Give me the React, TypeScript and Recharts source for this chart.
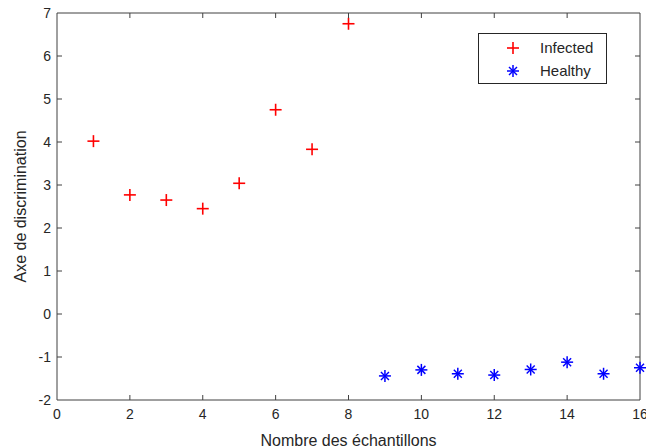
import React from 'react';
import { ScatterChart, Scatter, XAxis, YAxis, ReferenceLine } from 'recharts';

const infectedSamples = [1, 2, 3, 4, 5, 6, 7, 8];
const infectedValues = [4.02, 2.77, 2.65, 2.45, 3.04, 4.75, 3.83, 6.75];
const healthySamples = [9, 10, 11, 12, 13, 14, 15, 16];
const healthyValues = [-1.44, -1.3, -1.39, -1.42, -1.29, -1.12, -1.39, -1.25];
const xTicks = [0, 2, 4, 6, 8, 10, 12, 14, 16];
const yTicks = [-2, -1, 0, 1, 2, 3, 4, 5, 6, 7];

const infectedData = infectedSamples.map((x, i) => ({ x, y: infectedValues[i] }));
const healthyData = healthySamples.map((x, i) => ({ x, y: healthyValues[i] }));

const FONT = '"Liberation Sans", Arial, sans-serif';
const AXIS = '#404040';
const TXT = '#262626';
// plot box (matches margins below)
const TOP = 13;
const BOTTOM = 400;
const LEFT = 57;
const RIGHT = 640;

const PlusMark = ({ cx, cy }: any) => (
  <g stroke="#ff0000" strokeWidth={1.6}>
    <line x1={cx - 6} y1={cy} x2={cx + 6} y2={cy} />
    <line x1={cx} y1={cy - 6} x2={cx} y2={cy + 6} />
  </g>
);

const StarMark = ({ cx, cy }: any) => (
  <g stroke="#0000ff" strokeWidth={1.5}>
    <line x1={cx - 6} y1={cy} x2={cx + 6} y2={cy} />
    <line x1={cx} y1={cy - 6} x2={cx} y2={cy + 6} />
    <line x1={cx - 4} y1={cy - 4} x2={cx + 4} y2={cy + 4} />
    <line x1={cx - 4} y1={cy + 4} x2={cx + 4} y2={cy - 4} />
  </g>
);

const XTick = ({ x, y, payload }: any) => {
  const inner = payload.value !== 0 && payload.value !== 16;
  return (
    <g>
      {inner && <line x1={x} y1={BOTTOM} x2={x} y2={BOTTOM - 5} stroke={AXIS} />}
      {inner && <line x1={x} y1={TOP} x2={x} y2={TOP + 5} stroke={AXIS} />}
      <text x={x} y={y + 19} textAnchor="middle" fontSize={14} fontFamily={FONT} fill={TXT}>
        {payload.value}
      </text>
    </g>
  );
};

const YTick = ({ x, y, payload }: any) => {
  const inner = payload.value !== -2 && payload.value !== 7;
  return (
    <g>
      {inner && <line x1={LEFT} y1={y} x2={LEFT + 5} y2={y} stroke={AXIS} />}
      {inner && <line x1={RIGHT} y1={y} x2={RIGHT - 5} y2={y} stroke={AXIS} />}
      <text x={x - 6} y={y + 5} textAnchor="end" fontSize={14} fontFamily={FONT} fill={TXT}>
        {payload.value}
      </text>
    </g>
  );
};

const LegendBox = () => (
  <div
    style={{
      position: 'absolute',
      left: 478,
      top: 33,
      width: 127,
      height: 49,
      border: '1px solid #262626',
      background: '#fff',
    }}
  >
    <svg width={127} height={49} style={{ position: 'absolute', left: 0, top: 0 }}>
      <PlusMark cx={34} cy={14} />
      <StarMark cx={34} cy={37} />
      <text x={61} y={19} fontSize={15} fontFamily={FONT} fill={TXT}>Infected</text>
      <text x={61} y={42} fontSize={15} fontFamily={FONT} fill={TXT}>Healthy</text>
    </svg>
  </div>
);

export default function App() {
  return (
    <div style={{ position: 'absolute', left: 0, top: 0, width: 646, height: 448, background: '#fff' }}>
      <ScatterChart width={646} height={448} margin={{ top: TOP, right: 646 - RIGHT, bottom: 0, left: 0 }}>
        <XAxis
          type="number"
          dataKey="x"
          domain={[0, 16]}
          ticks={xTicks}
          interval={0}
          height={448 - BOTTOM}
          stroke={AXIS}
          tickLine={false}
          tickSize={0}
          tickMargin={0}
          tick={<XTick />}
          label={{ value: 'Nombre des échantillons', position: 'insideBottom', offset: 2, fontSize: 16, fontFamily: FONT, fill: TXT }}
        />
        <YAxis
          type="number"
          dataKey="y"
          domain={[-2, 7]}
          ticks={yTicks}
          interval={0}
          width={LEFT}
          stroke={AXIS}
          tickLine={false}
          tickSize={0}
          tickMargin={0}
          tick={<YTick />}
          label={{ value: 'Axe de discrimination', angle: -90, position: 'insideLeft', offset: 20, fontSize: 16, fontFamily: FONT, fill: TXT, style: { textAnchor: 'middle' } }}
        />
        <ReferenceLine y={7} stroke={AXIS} />
        <ReferenceLine x={16} stroke={AXIS} />
        <Scatter name="Infected" data={infectedData} shape={<PlusMark />} isAnimationActive={false} />
        <Scatter name="Healthy" data={healthyData} shape={<StarMark />} isAnimationActive={false} />
      </ScatterChart>
      <LegendBox />
    </div>
  );
}
